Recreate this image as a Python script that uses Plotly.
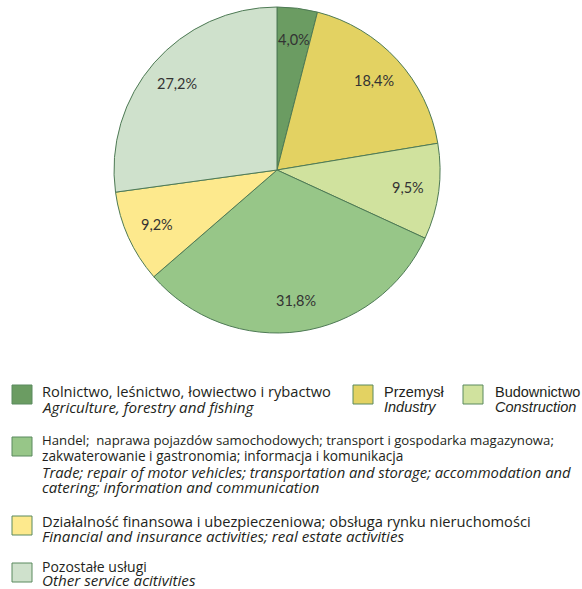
import math
import plotly.graph_objects as go

W, H = 582, 589

# dane
sectors_pl = [
    "Rolnictwo, leśnictwo, łowiectwo i rybactwo",
    "Przemysł",
    "Budownictwo",
    "Handel;  naprawa pojazdów samochodowych; transport i gospodarka magazynowa;",
    "Działalność finansowa i ubezpieczeniowa; obsługa rynku nieruchomości",
    "Pozostałe usługi",
]
shares = [4.0, 18.4, 9.5, 31.8, 9.2, 27.2]
colors = ["#6b9c62", "#e3d262", "#d0e29e", "#97c688", "#fde98d", "#cfe1cc"]
labels_txt = [f"{v:.1f}".replace(".", ",") + "%" for v in shares]

FONT = "Open Sans"
ARIAL = "Liberation Sans"
PIE_FONT = "Lato"

# srodek i promien kola (piksele okna)
CX, CY, R = 277, 170, 163


def px_x(x):
    return x / W


def px_y(y):
    return 1 - y / H


fig = go.Figure(go.Pie(
    labels=sectors_pl,
    values=shares,
    textinfo="none",
    sort=False,
    direction="clockwise",
    rotation=0,
    marker=dict(colors=colors, line=dict(color="#4e7a55", width=1)),
    domain=dict(x=[px_x(CX - R), px_x(CX + R)], y=[px_y(CY + R), px_y(CY - R)]),
    showlegend=False,
    hoverinfo="label+percent",
))

annotations = []

# etykiety procentowe w srodku wycinkow
total = sum(shares)
cum = 0
for v, t in zip(shares, labels_txt):
    mid = (cum + v / 2) / total * 2 * math.pi
    cum += v
    rr = 0.81 * R
    x = CX + rr * math.sin(mid)
    y = CY - rr * math.cos(mid)
    annotations.append(dict(
        xref="paper", yref="paper", x=px_x(x), y=px_y(y),
        xanchor="center", yanchor="middle", showarrow=False, text=t,
        font=dict(family=PIE_FONT, size=14.5, color="#333333"),
    ))

# legenda rysowana recznie: (x kwadratu, y gora, x tekstu, [(tekst, y, italic, font, rozmiar)])
legend_blocks = [
    (12, 385, 40, [(sectors_pl[0], 391, False, FONT, 14.7),
                   ("Agriculture, forestry and fishing", 407, True, FONT, 15.2)]),
    (353, 385, 382, [(sectors_pl[1], 392, False, ARIAL, 14.5),
                     ("Industry", 407, True, ARIAL, 14.5)]),
    (463, 385, 493, [(sectors_pl[2], 392, False, ARIAL, 14.5),
                     ("Construction", 407, True, ARIAL, 14.5)]),
    (12, 437, 40, [(sectors_pl[3], 440, False, FONT, 13.2),
                   ("zakwaterowanie i gastronomia; informacja i komunikacja", 455, False, FONT, 13.7),
                   ("Trade; repair of motor vehicles; transportation and storage; accommodation and", 472, True, FONT, 14.8),
                   ("catering; information and communication", 487, True, FONT, 15.0)]),
    (12, 516, 40, [(sectors_pl[4], 521, False, FONT, 14.7),
                   ("Financial and insurance activities; real estate activities", 536, True, FONT, 15.2)]),
    (12, 563, 40, [(sectors_pl[5], 566, False, FONT, 14.0),
                   ("Other service acitivities", 580, True, FONT, 15.2)]),
]

shapes = []
for i, (sx, sy, tx, lines) in enumerate(legend_blocks):
    shapes.append(dict(
        type="rect", xref="paper", yref="paper",
        x0=px_x(sx), x1=px_x(sx + 20), y0=px_y(sy + 19), y1=px_y(sy),
        fillcolor=colors[i], line=dict(color="#5b8a5e", width=1),
    ))
    for txt, ly, it, fam, fs in lines:
        annotations.append(dict(
            xref="paper", yref="paper", x=px_x(tx), y=px_y(ly),
            xanchor="left", yanchor="middle", showarrow=False,
            text=f"<i>{txt}</i>" if it else txt,
            font=dict(family=fam, size=fs, color="#231f20"),
        ))

fig.update_layout(
    width=W, height=H,
    margin=dict(l=0, r=0, t=0, b=0),
    paper_bgcolor="white",
    plot_bgcolor="white",
    shapes=shapes,
    annotations=annotations,
)

# bez domyslnego marginesu strony, zeby wykres wypelnial okno
fig.write_html(
    "out.html",
    config={"displayModeBar": False},
    post_script="document.body.style.margin='0';document.body.style.overflow='hidden';",
)
